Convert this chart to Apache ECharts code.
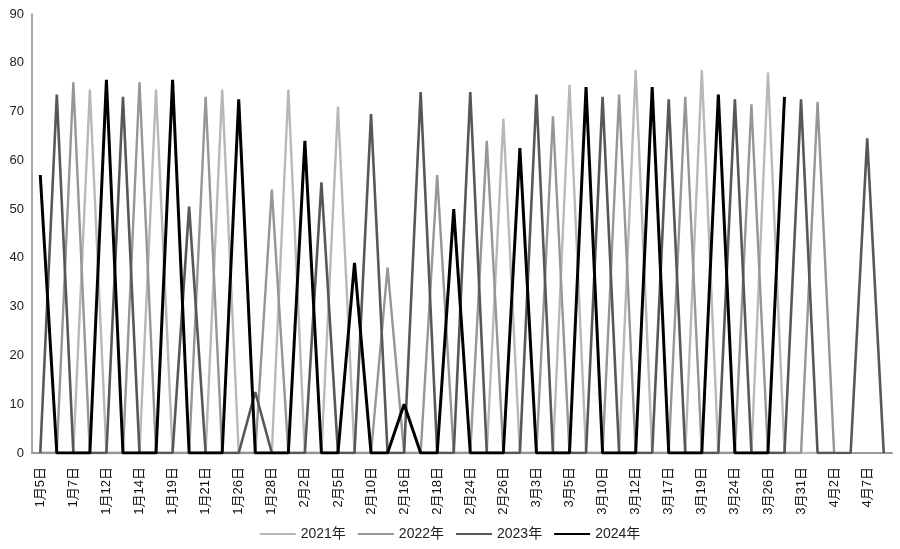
<!DOCTYPE html>
<html>
<head>
<meta charset="utf-8">
<script src="https://cdn.jsdelivr.net/npm/echarts@6/dist/echarts.min.js"></script>
<style>
html,body{margin:0;padding:0;background:#fff;}
#chart{width:900px;height:549px;}
</style>
</head>
<body>
<div id="chart"></div>
<script>
// Categories (weekly Friday dates of each year, merged by month-day)
var categories = [
  '1月5日','1月6日','1月7日','1月8日',
  '1月12日','1月13日','1月14日','1月15日',
  '1月19日','1月20日','1月21日','1月22日',
  '1月26日','1月27日','1月28日','1月29日',
  '2月2日','2月3日','2月5日',
  '2月9日','2月10日','2月11日',
  '2月16日','2月17日','2月18日',
  '2月23日','2月24日','2月25日','2月26日',
  '3月1日','3月3日','3月4日','3月5日',
  '3月8日','3月10日','3月11日','3月12日',
  '3月15日','3月17日','3月18日','3月19日',
  '3月22日','3月24日','3月25日','3月26日',
  '3月29日','3月31日','4月1日','4月2日',
  '4月5日','4月7日','4月8日'
];

var seriesNames = ['2021年','2022年','2023年','2024年'];

var s2021 = [0,0,0,74.5, 0,0,0,74.5, 0,0,0,74.5, 0,0,0,74.5, 0,0,71, 0,0,0, 0,0,0,
  0,0,0,68.5, 0,0,0,75.5, 0,0,0,78.5, 0,0,0,78.5, 0,0,0,78, 0,0,0,0, null,null,null];

var s2022 = [0,0,76,0, 0,0,76,0, 0,0,73,0, 0,0,54,0, 0,0,0, 0,0,38, 0,0,57,
  0,0,64,0, 0,0,69,0, 0,0,73.5,0, 0,0,73,0, 0,0,71.5,0, 0,0,72,0, null,null,null];

var s2023 = [0,73.5,0,0, 0,73,0,0, 0,50.5,0,0, 0,12.5,0,0, 0,55.5,0, 0,69.5,0, 0,74,0,
  0,74,0,0, 0,73.5,0,0, 0,73,0,0, 0,72.5,0,0, 0,72.5,0,0, 0,72.5,0,0, 0,64.5,0];

var s2024 = [57,0,0,0, 76.5,0,0,0, 76.5,0,0,0, 72.5,0,0,0, 64,0,0, 39,0,0, 10,0,0,
  50,0,0,0, 62.5,0,0,0, 75,0,0,0, 75,0,0,0, 73.5,0,0,0, 73, null,null,null,null,null,null];

var colors = ['#b8b8b8','#969696','#575757','#000000'];
var widths = [2.4, 2.4, 2.6, 3];
var dataList = [s2021, s2022, s2023, s2024];

var chart = echarts.init(document.getElementById('chart'), null, {renderer:'canvas'});
var fontFam = 'Liberation Sans, "Noto Sans CJK SC", sans-serif';

var series = seriesNames.map(function(n, i){
  return {
    name: n,
    type: 'line',
    data: dataList[i],
    symbol: 'none',
    showSymbol: false,
    connectNulls: false,
    animation: false,
    lineStyle: {color: colors[i], width: widths[i]},
    itemStyle: {color: colors[i]}
  };
});

chart.setOption({
  backgroundColor: '#fff',
  animation: false,
  grid: {left: 32, right: 8, top: 14, bottom: 96, containLabel: false},
  legend: {
    bottom: 3,
    left: 'center',
    icon: 'rect',
    itemWidth: 36,
    itemHeight: 2,
    itemGap: 12,
    textStyle: {color: '#222', fontSize: 14, fontFamily: fontFam},
    data: seriesNames
  },
  xAxis: {
    type: 'category',
    data: categories,
    boundaryGap: true,
    axisLine: {show: true, lineStyle: {color: '#9a9a9a', width: 2}},
    axisTick: {show: false},
    axisLabel: {
      interval: 1,
      rotate: 90,
      margin: 14,
      color: '#111',
      fontSize: 13,
      fontFamily: fontFam
    },
    splitLine: {show: false}
  },
  yAxis: {
    type: 'value',
    min: 0,
    max: 90,
    interval: 10,
    axisLine: {show: true, lineStyle: {color: '#8a8a8a', width: 1.5}},
    axisTick: {show: false},
    axisLabel: {color: '#222', fontSize: 13, margin: 8, fontFamily: fontFam},
    splitLine: {show: false}
  },
  series: series
});
</script>
</body>
</html>
